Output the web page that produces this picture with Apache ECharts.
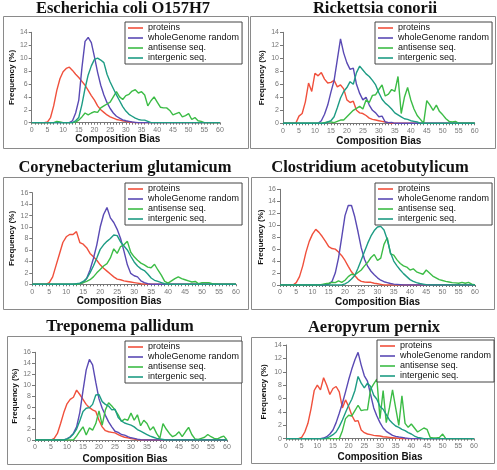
<!DOCTYPE html>
<html><head><meta charset="utf-8">
<script src="https://cdn.jsdelivr.net/npm/echarts@6/dist/echarts.min.js"></script>
<style>html,body{margin:0;padding:0;background:#fff}#c{width:497px;height:470px}</style>
</head><body><div id="c"></div>
<script>
const bias = [0,1,2,3,4,5,6,7,8,9,10,11,12,13,14,15,16,17,18,19,20,21,22,23,24,25,26,27,28,29,30,31,32,33,34,35,36,37,38,39,40,41,42,43,44,45,46,47,48,49,50,51,52,53,54,55,56,57,58,59,60];
const seriesNames = ['proteins','wholeGenome random','antisense seq.','intergenic seq.'];
const titles = ['Escherichia coli O157H7','Rickettsia conorii','Corynebacterium glutamicum','Clostridium acetobutylicum','Treponema pallidum','Aeropyrum pernix'];
const yMax = [14,14,16,16,16,14];
const yTicks = [2,2,2,2,2,2];

// Escherichia coli O157H7
const ecoliProteins = [0,0,0,0,0,0.1,0.8,2.6,5,6.8,7.9,8.4,8.6,8.1,7.5,7.0,6.4,5.8,5.0,4.2,3.5,2.6,2.0,1.6,1.2,0.9,0.7,0.5,0.4,0.3,0.2,0.1,0.05,0,0,0,0,0,0,0,0,0,0,0,0,0,0,0,0,0,0,0,0,0,0,0,0,0,0,0,0];
const ecoliWhole = [0,0,0,0,0,0,0,0,0,0,0,0,0,0.3,1.5,3.5,8.5,12.6,13.2,12.4,10.2,7.8,5.8,4.3,3.1,2.2,1.5,1,0.7,0.45,0.3,0.2,0.1,0.05,0,0,0,0,0,0,0,0,0,0,0,0,0,0,0,0,0,0,0,0,0,0,0,0,0,0,0];
const ecoliAnti = [0,0,0,0,0,0,0,0,0.2,0.1,0,0,0,0,0.1,0.4,0.9,1.5,1.2,1.5,1.7,1.6,2.3,2.6,2.9,3.2,4,4.8,4,3.6,4.2,4.4,4.9,5.1,4.6,4.8,4.3,2.6,3.4,4,3.2,2.4,2.3,2.3,1.9,1.2,1.4,1.6,0.9,1.1,1.4,0.5,0.8,0.3,0.2,0,0,0,0,0,0];
const ecoliInter = [0,0,0,0,0,0,0,0,0,0,0,0,0,0,0.3,0.8,2.8,5.3,7.4,8.8,9.8,10,9.7,9.3,7.5,6.3,5.3,4.3,3.4,2.5,1.8,1.3,1,0.7,0.5,0.4,0.4,0.2,0,0,0,0,0,0,0,0,0,0,0,0,0,0,0,0,0,0,0,0,0,0,0];

// Rickettsia conorii
const rickProteins = [0,0,0,0,0,1.1,1.5,3.3,6.2,4.9,7.7,7.3,7.8,6.8,6.2,6.3,6.6,5.6,5.9,5.3,3.6,3.2,3.4,2,1.6,1.5,1.2,0.8,0.6,0.5,0.4,0.3,0.2,0.1,0,0,0,0,0,0,0,0,0,0,0,0,0,0,0,0,0,0,0,0,0,0,0,0,0,0,0];
const rickWhole = [0,0,0,0,0,0,0,0,0,0,0,0,0.4,1.4,2.8,4.8,6.6,9.8,13,10.8,9.3,8.3,8.5,6,4.6,3.6,4,2.8,2,1.6,1,1.1,0.2,0.1,0.15,0,0,0,0,0,0,0,0,0,0,0,0,0,0,0,0,0,0,0,0,0,0,0,0,0,0];
const rickAnti = [0,0,0,0,0,0,0,0,0,0,0,0,0,0.1,0.2,0.2,0.1,0.3,0.5,0.5,1,1.5,2,2.3,2.6,2.2,3.6,3.2,4.3,4.4,5.2,5.9,4.2,4.5,5.2,4.9,7.2,1.5,4,5.5,3.6,2.2,1.2,0.6,0,3.5,2.8,2,2.8,1.8,1.3,0.7,0.3,0.2,0.3,0,0,0,0,0,0];
const rickInter = [0,0,0,0,0,0,0,0,0,0,0,0,0,0,0.2,0.4,1.0,2.4,3.9,4.9,5.5,6.4,6.0,7.8,8.8,8.2,7.6,7.2,6.6,5.9,4.7,3.7,3.1,2.7,2.2,1.6,1.3,1,0.7,0.6,0.4,0.3,0.2,0,0,0,0,0,0,0,0,0,0,0,0,0,0,0,0,0,0];

// Corynebacterium glutamicum
const coryProteins = [0,0,0,0,0,0.3,1.3,3.3,5.3,7.3,8.3,8.7,8.7,9.2,7.3,7,6.4,5.4,4.8,4.2,3.4,2.8,2.3,1.8,1.3,0.9,0.8,0.6,0.5,0.4,0.3,0.2,0.1,0.05,0,0,0,0,0,0,0,0,0,0,0,0,0,0,0,0,0,0,0,0,0,0,0,0,0,0,0];
const coryWhole = [0,0,0,0,0,0,0,0,0,0,0,0,0,0,0.1,0.3,1,2.5,4.5,6.9,10,12.2,13.4,11.6,10.8,9.6,8,5.8,3.4,1.9,1.5,1.3,0.6,0.3,0.1,0,0,0,0,0,0,0,0,0,0,0,0,0,0,0,0,0,0,0,0,0,0,0,0,0,0];
const coryAnti = [0,0,0,0,0,0,0,0,0,0,0,0,0,0,0.1,0.3,0.5,0.8,1.3,2,2.6,3.2,3.6,4.6,6.2,5.4,6.6,6.9,7.5,5.6,4.8,4.2,3.7,3.4,3.0,2.9,3.5,2.5,1.6,0.5,0.2,0.6,1,1.3,1,0.8,0.6,0.4,0.5,0.1,0.3,0.3,0.3,0.1,0.05,0,0,0,0,0,0];
const coryInter = [0,0,0,0,0,0,0,0,0,0,0,0,0,0.1,0.2,0.5,1,2,3.2,4.6,6.1,6.9,7.5,8,8.6,8.5,7.4,6.7,6,4.9,3.9,3.2,2.7,2.4,1.8,1.1,0.7,0.5,0.3,0.1,0,0,0,0,0,0,0,0,0,0,0,0,0,0,0,0,0,0,0,0,0];

// Clostridium acetobutylicum
const closProteins = [0,0,0,0,0,0.4,1.4,3.2,5.5,7.3,8.5,9.3,8.8,8.1,7.3,6.4,6.1,6,5.5,4.9,4.1,3.1,2.2,1.6,0.95,0.6,0.5,0.45,0.45,0.3,0.2,0.1,0,0,0,0,0,0,0,0,0,0,0,0,0,0,0,0,0,0,0,0,0,0,0,0,0,0,0,0,0];
const closWhole = [0,0,0,0,0,0,0,0,0,0,0,0,0,0,0,0.15,0.6,2,4.5,8,11.6,13.3,13.3,11.4,8.9,6.2,4.3,3.1,2.3,1.7,1.2,0.8,0.55,0.4,0.25,0.15,0.1,0.05,0,0,0,0,0,0,0,0,0,0,0,0,0,0,0,0,0,0,0,0,0,0,0];
const closAnti = [0,0,0,0,0,0,0,0,0,0,0,0,0,0.1,0.2,0.3,0.45,0.4,0.7,0.45,0.8,1.4,1.8,1.7,2.1,2.5,3.2,3.8,4.6,5.1,4.1,4.5,6.8,7.9,5.2,5,4.2,3.6,3.2,3,2.5,2.7,2.2,2,1.8,2.5,2,1.5,1.2,0.9,0.75,0.6,0.5,0.4,0.35,0.3,0.45,0.3,0.45,0.15,0];
const closInter = [0,0,0,0,0,0,0,0,0,0,0,0,0,0,0,0,0,0,0,0,0.2,0.5,1,1.6,2.8,4.2,5.6,7,8.2,9.1,9.7,9.8,9.2,7.6,5.4,4,3.2,2.5,1.9,1.4,0.9,0.6,0.4,0.25,0.15,0.05,0,0,0,0,0,0,0,0,0,0,0,0,0,0,0];

// Treponema pallidum
const trepProteins = [0,0,0,0,0,0,0.3,1.2,3,5,6.6,7.4,7.8,9.1,8.3,7.4,6.5,5.9,5.5,5.2,3.6,2.4,1.7,1.5,1.4,1.3,1,0.7,0.5,0.4,0.25,0.15,0.05,0,0,0,0,0,0,0,0,0,0,0,0,0,0,0,0,0,0,0,0,0,0,0,0,0,0,0,0];
const trepWhole = [0,0,0,0,0,0,0,0,0,0,0.2,0.6,1.2,2.4,5,9,12.8,14.7,13.7,10.5,7.5,5.8,4.5,3.3,2.4,1.6,1.4,1,0.9,0.6,0.4,0.3,0.15,0.05,0,0,0,0,0,0,0,0,0,0,0,0,0,0,0,0,0,0,0,0,0,0,0,0,0,0,0];
const trepAnti = [0,0,0,0,0,0,0,0,0,0,0,0,0,0.7,1.6,2.4,0.9,2.2,1.8,3,5.3,2.7,5.5,6.8,6.2,5.5,4.6,3.4,3.8,3.6,4.9,3.6,4.6,2.6,3.6,3,1.8,2.4,1.2,0.3,3.0,2.0,1.2,0.6,0.9,1.5,0.6,1.5,2.3,1.0,0.2,0.1,0.3,0.5,1,0.6,0.3,0.2,0.5,0.7,0];
const trepInter = [0,0,0,0,0,0,0,0,0,0,0.2,0.5,1.1,2,3.5,5.2,5.8,5.9,6.5,8.2,8.3,7,6.5,6.2,5.5,5.6,4.1,3.5,3.1,2.9,2.7,2.4,1.9,1.6,1.3,1,0.7,0.5,0.3,0.2,0.1,0,0,0,0,0,0,0,0,0,0,0,0,0,0,0,0,0,0,0,0];

// Aeropyrum pernix
const aeroProteins = [0,0,0,0,0,0.2,1,2.3,4.5,7.2,8,7.3,9.1,8,6.6,7.5,7.8,7,4.6,5.8,4.8,3.5,2.6,2.7,1.3,0.9,0.7,0.6,0.5,0.45,0.4,0.3,0.25,0.2,0.15,0.1,0.05,0,0,0,0,0,0,0,0,0,0,0,0,0,0,0,0,0,0,0,0,0,0,0,0];
const aeroWhole = [0,0,0,0,0,0,0,0,0,0,0,0,0.1,0.3,0.7,1.3,2.4,3.8,5.3,7,8.8,10.4,11.8,12.9,11,9.4,8.6,6.6,4.6,3.4,2.4,1.6,1.1,0.8,0.5,0.35,0.25,0.2,0.1,0.05,0,0,0,0,0,0,0,0,0,0,0,0,0,0,0,0,0,0,0,0,0];
const aeroAnti = [0,0,0,0,0,0,0,0,0,0,0,0,0,0,0,0,0,0,1.2,3,3.5,3.4,4.2,5,4.2,4.3,4.3,7.4,8.2,8.9,3,7.2,2.4,4.6,7.3,4.6,2,6.4,2.3,1.7,2.2,1.6,1,1.3,1.6,1.4,0.2,0.1,0.1,0.2,0.7,0,0,0,0,0,0,0,0,0,0];
const aeroInter = [0,0,0,0,0,0,0,0,0,0,0,0,0,0.1,0.3,0.6,1,1.8,2.8,3.9,5,5.9,7.2,9.3,8.3,7.6,8.3,7.8,6.5,5.9,4.8,4.4,3.6,2.8,2.3,1.9,1.7,1.4,1.2,0.9,0.7,0.4,0.2,0.1,0,0,0,0,0,0,0,0,0,0,0,0,0,0,0,0,0];

const panelData = [
  [ecoliProteins, ecoliWhole, ecoliAnti, ecoliInter],
  [rickProteins, rickWhole, rickAnti, rickInter],
  [coryProteins, coryWhole, coryAnti, coryInter],
  [closProteins, closWhole, closAnti, closInter],
  [trepProteins, trepWhole, trepAnti, trepInter],
  [aeroProteins, aeroWhole, aeroAnti, aeroInter]
];

// layout (pixels)
const layout = [
  {frame:[3,16,245,132], grid:[31.7,32.3,188.3,90.4], title:[123,9], legend:[125,22], xName:[12,16], yGap:15},
  {frame:[250,16,245,132], grid:[283,32.3,191.7,91], title:[375,9], legend:[375,22], xName:[13,0], yGap:17},
  {frame:[3,177,245,132], grid:[32.3,192.7,203.7,91.6], title:[125,168], legend:[125,183], xName:[12,30], yGap:17},
  {frame:[251,177,243,132], grid:[280,189.3,195,95.7], title:[370,168], legend:[375,183], xName:[12,0], yGap:14},
  {frame:[7,336,234,128], grid:[35,352.3,192,87.7], title:[120,327], legend:[125,341], xName:[14,12], yGap:16},
  {frame:[251,337,243,126], grid:[286,345,188,93.7], title:[374,328], legend:[377,340], xName:[14,0], yGap:18}
];
const colors = ['#f0503c','#5a4ab4','#3cbc46','#1e9c84'];

const option = {
  animation:false,
  backgroundColor:'#fff',
  title:[], legend:[], grid:[], xAxis:[], yAxis:[], series:[], graphic:[]
};
layout.forEach((L,i)=>{
  option.graphic.push({type:'rect', silent:true, z:-1,
    shape:{x:L.frame[0]+0.5,y:L.frame[1]+0.5,width:L.frame[2],height:L.frame[3]},
    style:{fill:'none', stroke:'#8a8a8a', lineWidth:1}});
  option.title.push({text:titles[i], left:L.title[0], top:L.title[1], padding:0,
    textAlign:'center', textVerticalAlign:'middle',
    textStyle:{fontFamily:'Liberation Serif', fontWeight:'bold', fontSize:16.5, color:'#111'}});
  option.grid.push({left:L.grid[0], top:L.grid[1], width:L.grid[2], height:L.grid[3]});
  option.legend.push({orient:'vertical', left:L.legend[0], top:L.legend[1], data:seriesNames,
    icon:'rect', itemWidth:15, itemHeight:1.6, itemGap:0, padding:[1,3,1,3],
    borderColor:'#444', borderWidth:1, backgroundColor:'#fff',
    textStyle:{fontFamily:'Liberation Sans', fontSize:9, color:'#111', lineHeight:10}});
  option.xAxis.push({type:'category', gridIndex:i, data:bias, boundaryGap:false,
    name:'Composition Bias', nameLocation:'middle', nameGap:L.xName[0],
    nameTextStyle:{fontFamily:'Liberation Sans', fontWeight:'bold', fontSize:10, color:'#111', padding:[0,L.xName[1],0,0]},
    axisLine:{lineStyle:{color:'#777', width:1}},
    axisTick:{interval:0, length:2, lineStyle:{color:'#777'}},
    axisLabel:{interval:4, fontFamily:'Liberation Sans', fontSize:7, color:'#777', margin:4},
    splitLine:{show:false}});
  option.yAxis.push({type:'value', gridIndex:i, min:0, max:yMax[i], interval:yTicks[i],
    name:'Frequency (%)', nameLocation:'middle', nameGap:L.yGap,
    nameTextStyle:{fontFamily:'Liberation Sans', fontWeight:'bold', fontSize:8, color:'#111'},
    axisLine:{show:true, lineStyle:{color:'#777', width:1}},
    axisTick:{show:true, length:3, lineStyle:{color:'#777'}},
    axisLabel:{fontFamily:'Liberation Sans', fontSize:7, color:'#777', margin:4},
    splitLine:{show:false}});
  panelData[i].forEach((d,k)=>{
    option.series.push({type:'line', name:seriesNames[k], xAxisIndex:i, yAxisIndex:i, data:d,
      showSymbol:false, symbol:'none', color:colors[k], lineStyle:{width:1.4, color:colors[k]}});
  });
});
const chart = echarts.init(document.getElementById('c'), null, {renderer:'canvas'});
chart.setOption(option);
</script></body></html>
